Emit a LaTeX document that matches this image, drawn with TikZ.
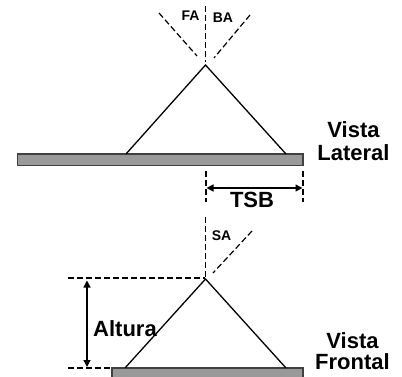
\documentclass[tikz,border=0pt]{standalone}
\usepackage{fontspec}
\setmainfont{Liberation Sans}
\usetikzlibrary{arrows.meta}
\definecolor{barfill}{gray}{0.6}
\tikzset{
  solidline/.style={draw=black,line width=1.3pt},
  dashline/.style={draw=black,line width=1.2pt,dash pattern=on 6pt off 3pt},
  barbox/.style={draw=black!75,fill=barfill,line width=1.3pt},
  dimline/.style={draw=black,line width=1.3pt,{Triangle[length=7pt,width=7pt]}-{Triangle[length=7pt,width=7pt]}},
  biglabel/.style={font=\fontsize{22}{23}\selectfont\bfseries,align=center,inner sep=0pt},
  frontlabel/.style={font=\fontsize{22}{21.5}\selectfont\bfseries,align=center,inner sep=0pt},
  smalllabel/.style={font=\fontsize{14}{15}\selectfont\bfseries,inner sep=0pt}
}
\begin{document}
\begin{tikzpicture}[x=1pt,y=-1pt]
\useasboundingbox (0,0) rectangle (402,377);
% top view
\coordinate (apexA) at (205.5,65);
\coordinate (leftA) at (126,154);
\coordinate (rightA) at (286,154);
\coordinate (vtopA) at (205.5,6);
\coordinate (vbotA) at (205.5,62);
\coordinate (faS) at (159,13);
\coordinate (faE) at (197,56);
\coordinate (baS) at (250,15);
\coordinate (baE) at (214,58);
\coordinate (t1a) at (206,171);
\coordinate (t1b) at (206,202);
\coordinate (t2a) at (303,171);
\coordinate (t2b) at (303,202);
\coordinate (d1) at (206.5,188);
\coordinate (d2) at (302.5,188);
\draw[barbox] (17.5,154) rectangle (303,165.5);
\draw[solidline] (leftA) -- (apexA) -- (rightA);
\draw[dashline] (vtopA) -- (vbotA);
\draw[dashline] (faS) -- (faE);
\draw[dashline] (baS) -- (baE);
\draw[dashline] (t1a) -- (t1b);
\draw[dashline] (t2a) -- (t2b);
\draw[dimline] (d1) -- (d2);
\node[smalllabel] (fa) at (190.5,15.5) {FA};
\node[smalllabel] (ba) at (223,17.5) {BA};
\node[biglabel] (vl) at (353.5,141) {Vista\\Lateral};
\node[biglabel] (tsb) at (252,200) {TSB};
% bottom view
\coordinate (apexB) at (205.5,279);
\coordinate (leftB) at (125,368);
\coordinate (rightB) at (286,368);
\coordinate (vtopB) at (205.5,217);
\coordinate (vbotB) at (205.5,277);
\coordinate (saS) at (252,231);
\coordinate (saE) at (213,273);
\coordinate (h1) at (68,278);
\coordinate (h2) at (205,278);
\coordinate (h3) at (68,368);
\coordinate (h4) at (112,368);
\coordinate (a1) at (87,280.5);
\coordinate (a2) at (87,367);
\draw[barbox] (112,368) rectangle (303,378);
\draw[solidline] (leftB) -- (apexB) -- (rightB);
\draw[dashline] (vtopB) -- (vbotB);
\draw[dashline] (saS) -- (saE);
\draw[dashline] (h1) -- (h2);
\draw[dashline] (h3) -- (h4);
\draw[dimline] (a1) -- (a2);
\node[smalllabel] (sa) at (221.5,235.5) {SA};
\node[biglabel] (alt) at (125,329) {Altura};
\node[frontlabel] (vf) at (352.5,351) {Vista\\Frontal};
\end{tikzpicture}
\end{document}
